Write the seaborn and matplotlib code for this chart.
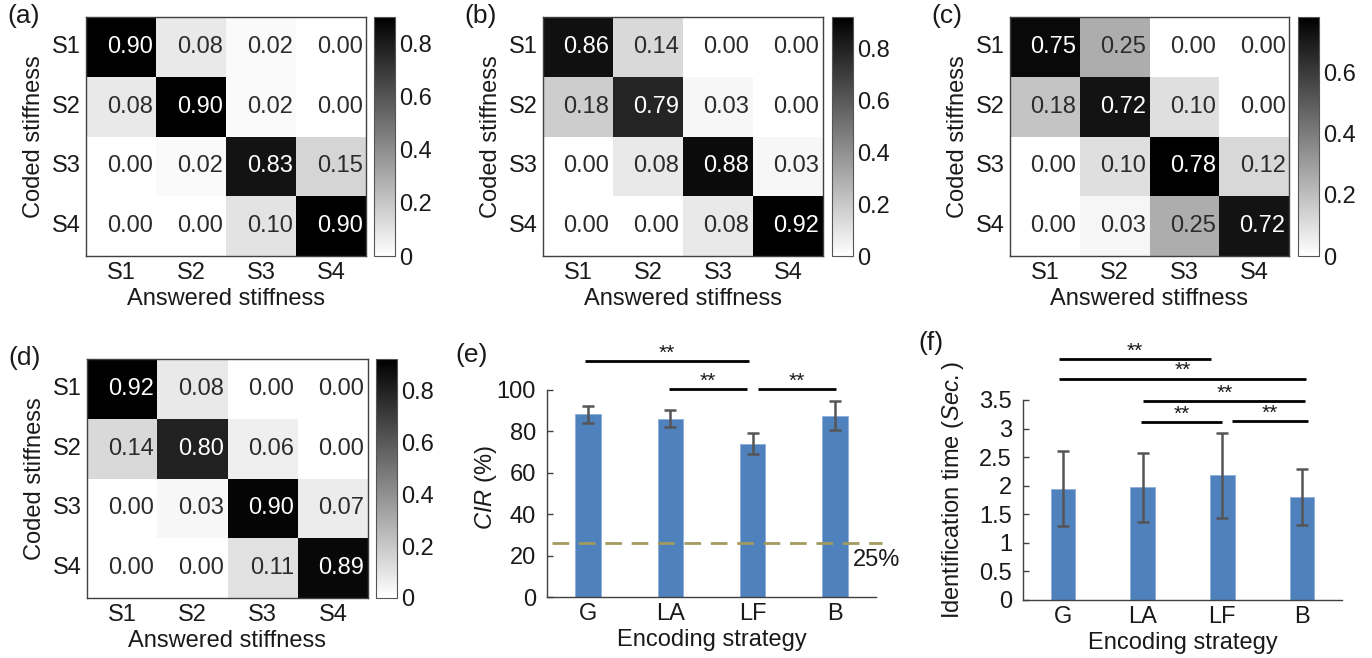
import numpy as np
import pandas as pd
import matplotlib
matplotlib.use("Agg")
import matplotlib.pyplot as plt
import seaborn as sns

sns.set_theme(style="white")
plt.rcParams['font.family'] = ['Liberation Sans', 'DejaVu Sans']
plt.rcParams['mathtext.fontset'] = 'custom'
plt.rcParams['mathtext.rm'] = 'Liberation Sans'
plt.rcParams['mathtext.it'] = 'Liberation Sans:italic'
plt.rcParams['text.color'] = '#1a1a1a'
plt.rcParams['axes.labelcolor'] = '#1a1a1a'
plt.rcParams['xtick.color'] = '#1a1a1a'
plt.rcParams['ytick.color'] = '#1a1a1a'

# ---------------- data ----------------
levels = ["S1", "S2", "S3", "S4"]
conf_a = [[0.90, 0.08, 0.02, 0.00],
          [0.08, 0.90, 0.02, 0.00],
          [0.00, 0.02, 0.83, 0.15],
          [0.00, 0.00, 0.10, 0.90]]
conf_b = [[0.86, 0.14, 0.00, 0.00],
          [0.18, 0.79, 0.03, 0.00],
          [0.00, 0.08, 0.88, 0.03],
          [0.00, 0.00, 0.08, 0.92]]
conf_c = [[0.75, 0.25, 0.00, 0.00],
          [0.18, 0.72, 0.10, 0.00],
          [0.00, 0.10, 0.78, 0.12],
          [0.00, 0.03, 0.25, 0.72]]
conf_d = [[0.92, 0.08, 0.00, 0.00],
          [0.14, 0.80, 0.06, 0.00],
          [0.00, 0.03, 0.90, 0.07],
          [0.00, 0.00, 0.11, 0.89]]

strategies = ["G", "LA", "LF", "B"]
cir_mean = [88.3, 86.2, 74.1, 87.5]
cir_err = [4.2, 4.1, 5.0, 7.0]
chance_level = 26.3

time_mean = [1.95, 1.97, 2.18, 1.80]
time_err = [0.65, 0.60, 0.75, 0.49]

# significance brackets: (x start, x end, y)
sig_e = [(-0.04, 1.96, 114.0), (0.98, 1.93, 100.5), (2.06, 3.01, 100.5)]
sig_f = [(-0.05, 1.86, 4.21), (-0.05, 3.05, 3.87), (1.01, 3.04, 3.48),
         (0.98, 1.99, 3.11), (2.12, 3.07, 3.13)]

# ---------------- figure ----------------
W, H = 1372, 658
fig = plt.figure(figsize=(W / 100, H / 100), dpi=100)
FS = 17
LFS = 19
DARK = '#1a1a1a'
SPINE = '#404040'


def ax_px(x0, y0, x1, y1):
    return fig.add_axes([x0 / W, 1 - y1 / H, (x1 - x0) / W, (y1 - y0) / H])


def heat(mat, box, cbox, label):
    ax = ax_px(*box)
    cax = ax_px(*cbox)
    df = pd.DataFrame(mat, index=levels, columns=levels)
    vmax = float(np.max(mat))
    sns.heatmap(df, ax=ax, cmap='gray_r', vmin=0, vmax=vmax, cbar_ax=cax,
                annot=False, linewidths=0, square=False)
    for i in range(len(levels)):
        for j in range(len(levels)):
            v = mat[i][j]
            ax.text(j + 0.95, i + 0.5, f"{v:.2f}", ha='right', va='center',
                    fontsize=FS, color='white' if v > 0.5 else '#2b2b2b')
    for s in ax.spines.values():
        s.set_visible(True)
        s.set_color(SPINE)
        s.set_linewidth(1.0)
    ax.tick_params(length=0, labelsize=FS, pad=4)
    ax.set_yticklabels(levels, rotation=0)
    ax.set_xticklabels(levels, rotation=0)
    ax.set_xlabel("Answered stiffness", fontsize=FS, labelpad=3)
    ax.set_ylabel("Coded stiffness", fontsize=FS, labelpad=5)
    ticks = [t for t in [0, 0.2, 0.4, 0.6, 0.8] if t <= vmax]
    cax.set_yticks(ticks)
    cax.set_yticklabels(["0" if t == 0 else f"{t:.1f}" for t in ticks])
    cax.tick_params(direction='in', length=3, width=0.8, labelsize=FS,
                    pad=3, color='#333333')
    cb = ax.collections[0].colorbar
    cb.outline.set_edgecolor('#555555')
    cb.outline.set_linewidth(0.8)
    fig.text((box[0] - 79) / W, 1 - (box[1] - 1) / H, label,
             fontsize=LFS, ha='left', va='center')
    return ax


heat(conf_a, (86, 17, 366, 256), (374, 17, 395, 256), "(a)")
heat(conf_b, (543, 17, 823, 256), (832, 17, 853, 256), "(b)")
heat(conf_c, (1010, 17, 1289, 256), (1298, 17, 1319, 256), "(c)")
heat(conf_d, (87, 359, 368, 598), (376, 359, 397, 598), "(d)")

BAR = '#4F81BD'
ERR = '#555555'


def style_bar_ax(ax):
    sns.despine(ax=ax)
    ax.spines['left'].set_color(SPINE)
    ax.spines['bottom'].set_color(SPINE)
    ax.spines['left'].set_linewidth(1.0)
    ax.spines['bottom'].set_linewidth(1.0)
    ax.tick_params(axis='y', direction='in', length=4, width=1, color=SPINE,
                   labelsize=FS, pad=8, left=True)
    ax.tick_params(axis='x', length=0, labelsize=FS, pad=4)
    ax.set_xlim(-0.5, 3.5)
    ax.grid(False)


def sig(ax, items):
    for x0, x1, y in items:
        ax.plot([x0, x1], [y, y], color='black', lw=2, clip_on=False,
                solid_capstyle='butt')
        ax.annotate("**", xy=((x0 + x1) / 2, y), xytext=(0, -1),
                    textcoords='offset points', ha='center', va='bottom',
                    fontsize=15, color=DARK, annotation_clip=False)


# (e)
axe = ax_px(547, 390, 876, 597)
df_e = pd.DataFrame({"strategy": strategies, "cir": cir_mean})
sns.barplot(data=df_e, x="strategy", y="cir", color=BAR, width=0.31,
            errorbar=None, ax=axe, saturation=1, edgecolor='#8DAEDB',
            linewidth=0.6)
axe.errorbar(np.arange(len(strategies)), cir_mean, yerr=cir_err, fmt='none',
             ecolor=ERR, elinewidth=1.8, capsize=4, capthick=1.8)
style_bar_ax(axe)
axe.set_ylim(0, 100)
axe.set_yticks([0, 20, 40, 60, 80, 100])
axe.plot([-0.44, 3.57], [chance_level, chance_level], ls=(0, (6, 3.5)),
         color='#A39A5F', lw=2, clip_on=False)
axe.text(3.22, 18, "25%", fontsize=FS, ha='left', va='center', color=DARK)
axe.set_xlabel("Encoding strategy", fontsize=FS, labelpad=3)
axe.set_ylabel(r"$\mathit{CIR}$ (%)", fontsize=FS, labelpad=4)
axe.yaxis.set_label_coords(-0.145, 0.53)
sig(axe, sig_e)
fig.text(455 / W, 1 - 355 / H, "(e)", fontsize=LFS, ha='left', va='center')

# (f)
axf = ax_px(1023, 400, 1342, 600)
df_f = pd.DataFrame({"strategy": strategies, "time": time_mean})
sns.barplot(data=df_f, x="strategy", y="time", color=BAR, width=0.31,
            errorbar=None, ax=axf, saturation=1, edgecolor='#8DAEDB',
            linewidth=0.6)
axf.errorbar(np.arange(len(strategies)), time_mean, yerr=time_err, fmt='none',
             ecolor=ERR, elinewidth=1.8, capsize=4, capthick=1.8)
style_bar_ax(axf)
axf.set_ylim(0, 3.5)
yt = [0, 0.5, 1, 1.5, 2, 2.5, 3, 3.5]
axf.set_yticks(yt)
axf.set_yticklabels([f"{t:g}" for t in yt])
axf.set_xlabel("Encoding strategy", fontsize=FS, labelpad=3)
axf.set_ylabel(r"Identification time ($\mathit{Sec.}$)", fontsize=FS,
               labelpad=4)
axf.yaxis.set_label_coords(-0.18, 0.55)
sig(axf, sig_f)
fig.text(918 / W, 1 - 343 / H, "(f)", fontsize=LFS, ha='left', va='center')

fig.savefig("out.png", dpi=100, facecolor='white')
